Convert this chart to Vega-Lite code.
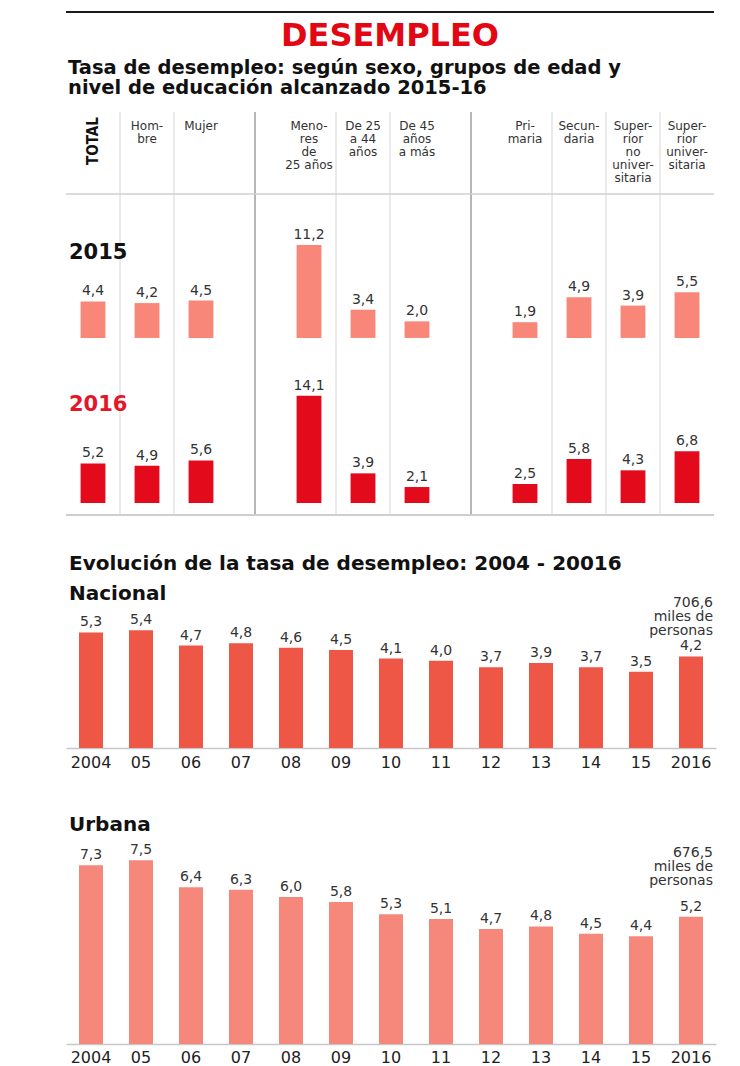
{
  "$schema": "https://vega.github.io/schema/vega-lite/v6.json",
  "background": "white",
  "padding": {"left": 65, "top": 11, "right": 10, "bottom": 0},
  "config": {
    "view": {"stroke": null},
    "font": "DejaVu Sans",
    "locale": {"number": {"decimal": ",", "thousands": ".", "grouping": [3], "currency": ["", ""]}},
    "title": {"font": "DejaVu Sans", "fontWeight": "bold", "color": "#111111", "anchor": "start"}
  },
  "datasets": {
    "educacion": [
      {"grupo": "TOTAL", "anio": "2015", "tasa": 4.4},
      {"grupo": "Hombre", "anio": "2015", "tasa": 4.2},
      {"grupo": "Mujer", "anio": "2015", "tasa": 4.5},
      {"grupo": "Menores de 25 años", "anio": "2015", "tasa": 11.2},
      {"grupo": "De 25 a 44 años", "anio": "2015", "tasa": 3.4},
      {"grupo": "De 45 años a más", "anio": "2015", "tasa": 2.0},
      {"grupo": "Primaria", "anio": "2015", "tasa": 1.9},
      {"grupo": "Secundaria", "anio": "2015", "tasa": 4.9},
      {"grupo": "Superior no universitaria", "anio": "2015", "tasa": 3.9},
      {"grupo": "Superior universitaria", "anio": "2015", "tasa": 5.5},
      {"grupo": "TOTAL", "anio": "2016", "tasa": 5.2},
      {"grupo": "Hombre", "anio": "2016", "tasa": 4.9},
      {"grupo": "Mujer", "anio": "2016", "tasa": 5.6},
      {"grupo": "Menores de 25 años", "anio": "2016", "tasa": 14.1},
      {"grupo": "De 25 a 44 años", "anio": "2016", "tasa": 3.9},
      {"grupo": "De 45 años a más", "anio": "2016", "tasa": 2.1},
      {"grupo": "Primaria", "anio": "2016", "tasa": 2.5},
      {"grupo": "Secundaria", "anio": "2016", "tasa": 5.8},
      {"grupo": "Superior no universitaria", "anio": "2016", "tasa": 4.3},
      {"grupo": "Superior universitaria", "anio": "2016", "tasa": 6.8}
    ],
    "encabezados": [
      {"grupo": "Hombre", "etiqueta": "Hom-\nbre"},
      {"grupo": "Mujer", "etiqueta": "Mujer"},
      {"grupo": "Menores de 25 años", "etiqueta": "Meno-\nres\nde\n25 años"},
      {"grupo": "De 25 a 44 años", "etiqueta": "De 25\na 44\naños"},
      {"grupo": "De 45 años a más", "etiqueta": "De 45\naños\na más"},
      {"grupo": "Primaria", "etiqueta": "Pri-\nmaria"},
      {"grupo": "Secundaria", "etiqueta": "Secun-\ndaria"},
      {"grupo": "Superior no universitaria", "etiqueta": "Super-\nrior\nno\nuniver-\nsitaria"},
      {"grupo": "Superior universitaria", "etiqueta": "Super-\nrior\nuniver-\nsitaria"}
    ],
    "separadores": [
      {"grupo": "Hombre", "tipo": "fina"},
      {"grupo": "Mujer", "tipo": "fina"},
      {"grupo": "g1", "tipo": "gruesa"},
      {"grupo": "De 25 a 44 años", "tipo": "fina"},
      {"grupo": "De 45 años a más", "tipo": "fina"},
      {"grupo": "g2", "tipo": "gruesa"},
      {"grupo": "Secundaria", "tipo": "fina"},
      {"grupo": "Superior no universitaria", "tipo": "fina"},
      {"grupo": "Superior universitaria", "tipo": "fina"}
    ],
    "evolucion": [
      {"anio": "2004", "ambito": "Nacional", "tasa": 5.3},
      {"anio": "2005", "ambito": "Nacional", "tasa": 5.4},
      {"anio": "2006", "ambito": "Nacional", "tasa": 4.7},
      {"anio": "2007", "ambito": "Nacional", "tasa": 4.8},
      {"anio": "2008", "ambito": "Nacional", "tasa": 4.6},
      {"anio": "2009", "ambito": "Nacional", "tasa": 4.5},
      {"anio": "2010", "ambito": "Nacional", "tasa": 4.1},
      {"anio": "2011", "ambito": "Nacional", "tasa": 4.0},
      {"anio": "2012", "ambito": "Nacional", "tasa": 3.7},
      {"anio": "2013", "ambito": "Nacional", "tasa": 3.9},
      {"anio": "2014", "ambito": "Nacional", "tasa": 3.7},
      {"anio": "2015", "ambito": "Nacional", "tasa": 3.5},
      {"anio": "2016", "ambito": "Nacional", "tasa": 4.2},
      {"anio": "2004", "ambito": "Urbana", "tasa": 7.3},
      {"anio": "2005", "ambito": "Urbana", "tasa": 7.5},
      {"anio": "2006", "ambito": "Urbana", "tasa": 6.4},
      {"anio": "2007", "ambito": "Urbana", "tasa": 6.3},
      {"anio": "2008", "ambito": "Urbana", "tasa": 6.0},
      {"anio": "2009", "ambito": "Urbana", "tasa": 5.8},
      {"anio": "2010", "ambito": "Urbana", "tasa": 5.3},
      {"anio": "2011", "ambito": "Urbana", "tasa": 5.1},
      {"anio": "2012", "ambito": "Urbana", "tasa": 4.7},
      {"anio": "2013", "ambito": "Urbana", "tasa": 4.8},
      {"anio": "2014", "ambito": "Urbana", "tasa": 4.5},
      {"anio": "2015", "ambito": "Urbana", "tasa": 4.4},
      {"anio": "2016", "ambito": "Urbana", "tasa": 5.2}
    ],
    "notas": [
      {"ambito": "Nacional", "nota": "706,6\nmiles de\npersonas"},
      {"ambito": "Urbana", "nota": "676,5\nmiles de\npersonas"}
    ]
  },
  "spacing": 38,
  "vconcat": [
    {
      "spacing": 0,
      "vconcat": [
        {
          "width": 648,
          "height": 45,
          "data": {"values": [{"titulo": "DESEMPLEO"}]},
          "layer": [
            {
              "mark": {"type": "rule", "stroke": "#1a1a1a", "strokeWidth": 2},
              "encoding": {"y": {"datum": 0, "type": "quantitative", "scale": {"domain": [0, 45], "reverse": true, "nice": false}, "axis": null}}
            },
            {
              "mark": {"type": "text", "fontSize": 32, "fontWeight": "bold", "color": "#E30613", "baseline": "middle", "align": "center"},
              "encoding": {
                "text": {"field": "titulo"},
                "y": {"datum": 24, "type": "quantitative"}
              }
            }
          ]
        },
        {
          "width": 648,
          "height": 403,
          "title": {"text": ["Tasa de desempleo: según sexo, grupos de edad y", "nivel de educación alcanzado 2015-16"], "fontSize": 19.5, "lineHeight": 20, "offset": 13, "dx": 3},
          "resolve": {"scale": {"y": "independent"}},
          "layer": [
            {
              "data": {"name": "separadores"},
              "transform": [{"filter": "datum.tipo == 'fina'"}],
              "mark": {"type": "rule", "stroke": "#d6d6d6", "strokeWidth": 1},
              "encoding": {"x": {"field": "grupo", "type": "nominal", "bandPosition": 0, "scale": {"domain": ["TOTAL", "Hombre", "Mujer", "g1", "Menores de 25 años", "De 25 a 44 años", "De 45 años a más", "g2", "Primaria", "Secundaria", "Superior no universitaria", "Superior universitaria"], "paddingInner": 0, "paddingOuter": 0}, "axis": null}}
            },
            {
              "data": {"name": "separadores"},
              "transform": [{"filter": "datum.tipo == 'gruesa'"}],
              "mark": {"type": "rule", "stroke": "#9c9c9c", "strokeWidth": 1.5},
              "encoding": {"x": {"field": "grupo", "type": "nominal", "bandPosition": 0.5}}
            },
            {
              "layer": [
                {
                  "data": {"name": "encabezados"},
                  "mark": {"type": "text", "lineBreak": "\n", "baseline": "top", "align": "center", "fontSize": 12, "lineHeight": 13, "color": "#333333"},
                  "encoding": {
                    "x": {"field": "grupo", "type": "nominal"},
                    "y": {"datum": 9, "type": "quantitative", "scale": {"domain": [0, 403], "reverse": true, "nice": false}, "axis": null},
                    "text": {"field": "etiqueta"}
                  }
                },
                {
                  "data": {"values": [{"grupo": "TOTAL"}]},
                  "mark": {"type": "text", "angle": 270, "font": "'Liberation Sans Narrow', 'DejaVu Sans Condensed', sans-serif", "fontWeight": "bold", "fontSize": 15, "baseline": "middle", "align": "center", "color": "#111111"},
                  "encoding": {
                    "x": {"field": "grupo", "type": "nominal"},
                    "y": {"datum": 29, "type": "quantitative"},
                    "text": {"field": "grupo"}
                  }
                },
                {
                  "data": {"values": [{}]},
                  "mark": {"type": "rule", "stroke": "#cfcfcf", "strokeWidth": 1.5},
                  "encoding": {"y": {"datum": 82, "type": "quantitative"}}
                },
                {
                  "data": {"values": [{}]},
                  "mark": {"type": "rule", "stroke": "#cfcfcf", "strokeWidth": 2},
                  "encoding": {"y": {"datum": 403, "type": "quantitative"}}
                }
              ]
            },
            {
              "layer": [
                {
                  "data": {"name": "educacion"},
                  "transform": [{"filter": "datum.anio == '2015'"}],
                  "mark": {"type": "bar", "width": {"band": 0.46}, "color": "#F8877A"},
                  "encoding": {
                    "x": {"field": "grupo", "type": "nominal"},
                    "y": {"field": "tasa", "type": "quantitative", "scale": {"domain": [-21.33, 27.22], "nice": false, "zero": false}, "axis": null},
                    "y2": {"datum": 0}
                  }
                },
                {
                  "data": {"name": "educacion"},
                  "transform": [{"filter": "datum.anio == '2015'"}],
                  "mark": {"type": "text", "baseline": "bottom", "dy": -3, "fontSize": 14, "color": "#333333"},
                  "encoding": {
                    "x": {"field": "grupo", "type": "nominal"},
                    "y": {"field": "tasa", "type": "quantitative"},
                    "text": {"field": "tasa", "type": "quantitative", "format": ".1f"}
                  }
                },
                {
                  "data": {"values": [{"grupo": "TOTAL", "anio": "2015"}]},
                  "mark": {"type": "text", "align": "left", "baseline": "middle", "dx": 3, "fontSize": 21, "fontWeight": "bold", "color": "#111111"},
                  "encoding": {
                    "x": {"field": "grupo", "type": "nominal", "bandPosition": 0},
                    "y": {"datum": 10.24, "type": "quantitative"},
                    "text": {"field": "anio"}
                  }
                }
              ]
            },
            {
              "layer": [
                {
                  "data": {"name": "educacion"},
                  "transform": [{"filter": "datum.anio == '2016'"}],
                  "mark": {"type": "bar", "width": {"band": 0.46}, "color": "#E30B1B"},
                  "encoding": {
                    "x": {"field": "grupo", "type": "nominal"},
                    "y": {"field": "tasa", "type": "quantitative", "scale": {"domain": [-1.58, 51.45], "nice": false, "zero": false}, "axis": null},
                    "y2": {"datum": 0}
                  }
                },
                {
                  "data": {"name": "educacion"},
                  "transform": [{"filter": "datum.anio == '2016'"}],
                  "mark": {"type": "text", "baseline": "bottom", "dy": -3, "fontSize": 14, "color": "#333333"},
                  "encoding": {
                    "x": {"field": "grupo", "type": "nominal"},
                    "y": {"field": "tasa", "type": "quantitative"},
                    "text": {"field": "tasa", "type": "quantitative", "format": ".1f"}
                  }
                },
                {
                  "data": {"values": [{"grupo": "TOTAL", "anio": "2016"}]},
                  "mark": {"type": "text", "align": "left", "baseline": "middle", "dx": 3, "fontSize": 21, "fontWeight": "bold", "color": "#E3172A"},
                  "encoding": {
                    "x": {"field": "grupo", "type": "nominal", "bandPosition": 0},
                    "y": {"datum": 12.9, "type": "quantitative"},
                    "text": {"field": "anio"}
                  }
                }
              ]
            }
          ]
        }
      ]
    },
    {
      "spacing": 45,
      "vconcat": [
        {
          "width": 650,
          "height": 162,
          "title": {"text": "Evolución de la tasa de desempleo: 2004 - 20016", "fontSize": 20, "offset": 10, "dx": 3},
          "encoding": {
            "x": {"field": "anio", "type": "nominal", "scale": {"paddingInner": 0, "paddingOuter": 0}, "axis": {"title": null, "labelAngle": 0, "ticks": false, "domainColor": "#c8c8c8", "domainWidth": 1.5, "labelFontSize": 16, "labelColor": "#222222", "labelPadding": 6, "labelExpr": "datum.label == '2004' || datum.label == '2016' ? datum.label : substring(datum.label, 2)"}}
          },
          "layer": [
            {
              "data": {"name": "evolucion"},
              "transform": [{"filter": "datum.ambito == 'Nacional'"}],
              "mark": {"type": "bar", "width": {"band": 0.48}, "color": "#EE5746"},
              "encoding": {"y": {"field": "tasa", "type": "quantitative", "scale": {"domain": [0, 7.43], "nice": false}, "axis": null}}
            },
            {
              "data": {"name": "evolucion"},
              "transform": [{"filter": "datum.ambito == 'Nacional'"}],
              "mark": {"type": "text", "baseline": "bottom", "dy": -3, "fontSize": 14, "color": "#333333"},
              "encoding": {
                "y": {"field": "tasa", "type": "quantitative"},
                "text": {"field": "tasa", "type": "quantitative", "format": ".1f"}
              }
            },
            {
              "data": {"values": [{"ambito": "Nacional"}]},
              "mark": {"type": "text", "align": "left", "baseline": "middle", "dx": 3, "fontSize": 20, "fontWeight": "bold", "color": "#111111"},
              "encoding": {
                "x": {"datum": "2004", "type": "nominal", "bandPosition": 0},
                "y": {"datum": 7.06, "type": "quantitative"},
                "text": {"field": "ambito"}
              }
            },
            {
              "data": {"name": "notas"},
              "transform": [{"filter": "datum.ambito == 'Nacional'"}],
              "mark": {"type": "text", "lineBreak": "\n", "align": "right", "baseline": "top", "dx": -3, "fontSize": 14, "lineHeight": 14, "color": "#333333"},
              "encoding": {
                "x": {"datum": "2016", "type": "nominal", "bandPosition": 1},
                "y": {"datum": 6.98, "type": "quantitative"},
                "text": {"field": "nota"}
              }
            }
          ]
        },
        {
          "width": 650,
          "height": 203,
          "title": {"text": "Urbana", "fontSize": 20, "offset": 6, "dx": 3},
          "encoding": {
            "x": {"field": "anio", "type": "nominal", "scale": {"paddingInner": 0, "paddingOuter": 0}, "axis": {"title": null, "labelAngle": 0, "ticks": false, "domainColor": "#c8c8c8", "domainWidth": 1.5, "labelFontSize": 16, "labelColor": "#222222", "labelPadding": 5, "labelExpr": "datum.label == '2004' || datum.label == '2016' ? datum.label : substring(datum.label, 2)"}}
          },
          "layer": [
            {
              "data": {"name": "evolucion"},
              "transform": [{"filter": "datum.ambito == 'Urbana'"}],
              "mark": {"type": "bar", "width": {"band": 0.48}, "color": "#F5887A"},
              "encoding": {"y": {"field": "tasa", "type": "quantitative", "scale": {"domain": [0, 8.29], "nice": false}, "axis": null}}
            },
            {
              "data": {"name": "evolucion"},
              "transform": [{"filter": "datum.ambito == 'Urbana'"}],
              "mark": {"type": "text", "baseline": "bottom", "dy": -3, "fontSize": 14, "color": "#333333"},
              "encoding": {
                "y": {"field": "tasa", "type": "quantitative"},
                "text": {"field": "tasa", "type": "quantitative", "format": ".1f"}
              }
            },
            {
              "data": {"name": "notas"},
              "transform": [{"filter": "datum.ambito == 'Urbana'"}],
              "mark": {"type": "text", "lineBreak": "\n", "align": "right", "baseline": "top", "dx": -3, "fontSize": 14, "lineHeight": 14, "color": "#333333"},
              "encoding": {
                "x": {"datum": "2016", "type": "nominal", "bandPosition": 1},
                "y": {"datum": 8.08, "type": "quantitative"},
                "text": {"field": "nota"}
              }
            }
          ]
        }
      ]
    }
  ]
}
